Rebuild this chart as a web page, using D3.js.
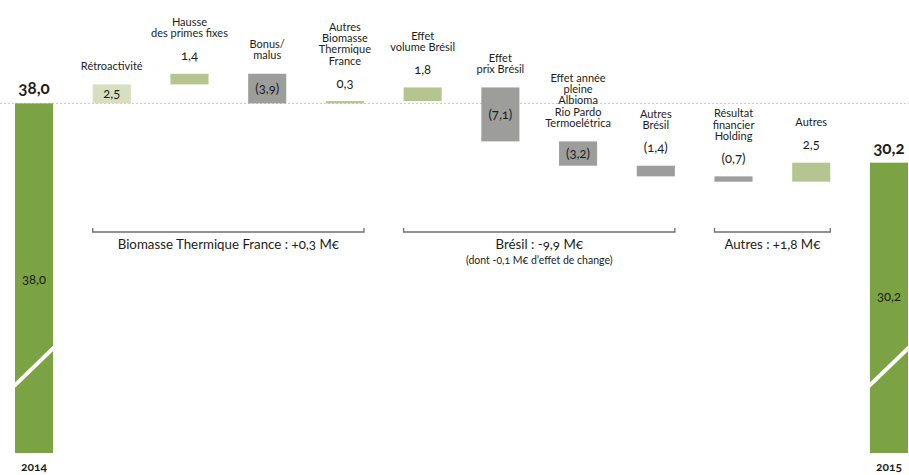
<!DOCTYPE html>
<html><head><meta charset="utf-8">
<script src="https://cdn.jsdelivr.net/npm/d3@7"></script>
<style>
body{margin:0;background:#fff;}
svg{font-family:Lato,"Open Sans",sans-serif;font-variant-numeric:oldstyle-nums;}
</style></head>
<body><svg id="c" width="909" height="475"></svg>
<script>
const categories = ["2014","Rétroactivité","Hausse des primes fixes","Bonus/malus","Autres Biomasse Thermique France","Effet volume Brésil","Effet prix Brésil","Effet année pleine Albioma Rio Pardo Termoelétrica","Autres Brésil","Résultat financier Holding","Autres","2015"];
const labelLines = [[],["Rétroactivité"],["Hausse","des primes fixes"],["Bonus/","malus"],["Autres","Biomasse","Thermique","France"],["Effet","volume Brésil"],["Effet","prix Brésil"],["Effet année","pleine","Albioma","Rio Pardo","Termoelétrica"],["Autres","Brésil"],["Résultat","financier","Holding"],["Autres"],[]];
const values = [38.0, 2.5, 1.4, -3.9, 0.3, 1.8, -7.1, -3.2, -1.4, -0.7, 2.5, 30.2];
const valueLabels = ["38,0","2,5","1,4","(3,9)","0,3","1,8","(7,1)","(3,2)","(1,4)","(0,7)","2,5","30,2"];
const kinds = ["total","light","mid","neg","mid","mid","neg","neg","neg","neg","mid","total"];
const labelInside = [false,true,false,true,false,false,true,true,false,false,false,false];
const groups = [
  {from:1,to:4,title:"Biomasse Thermique France : +0,3 M€",sub:null},
  {from:5,to:8,title:"Brésil : -9,9 M€",sub:"(dont -0,1 M€ d’effet de change)"},
  {from:9,to:10,title:"Autres : +1,8 M€",sub:null}
];
const colors = {total:"#7ba243",light:"#d6dfbf",mid:"#b6c58f",neg:"#9d9d9c"};

const svg = d3.select("#c");
const x = d3.scaleBand().domain(categories).range([15,908]).paddingInner(0.51).paddingOuter(0);
const y = d3.scaleLinear().domain([-8,42]).range([453,73]);
const bw = x.bandwidth();

let cum = 0;
const bars = categories.map((c,i)=>{
  let y0,y1;
  if(kinds[i]==="total"){ y0=-8; y1=values[i]; cum=values[i]; }
  else { y0=cum; y1=cum+values[i]; cum=y1; }
  return {c,i,lo:Math.min(y0,y1),hi:Math.max(y0,y1)};
});

svg.append("line").attr("x1",0).attr("x2",909).attr("y1",y(values[0])).attr("y2",y(values[0]))
  .attr("stroke","#c8c8c8").attr("stroke-width",1).attr("stroke-dasharray","2,2");

svg.selectAll("rect.bar").data(bars).join("rect").attr("class","bar")
  .attr("x",d=>x(d.c)).attr("width",bw)
  .attr("y",d=>y(d.hi)).attr("height",d=>Math.max(1,y(d.lo)-y(d.hi)))
  .attr("fill",d=>colors[kinds[d.i]]);

bars.filter(d=>kinds[d.i]==="total").forEach(d=>{
  svg.append("line").attr("x1",x(d.c)-1).attr("x2",x(d.c)+bw+1)
    .attr("y1",y(0.8)).attr("y2",y(5.9))
    .attr("stroke","#fff").attr("stroke-width",4);
});

const txt = "#1d1d1b";
bars.forEach(d=>{
  const cx = x(d.c)+bw/2;
  const top = y(d.hi);
  if(kinds[d.i]==="total"){
    svg.append("text").attr("x",cx).attr("y",top-9).attr("text-anchor","middle")
      .attr("font-size",17).attr("font-weight","bold").attr("fill",txt).text(valueLabels[d.i]);
    svg.append("text").attr("x",cx).attr("y",d.i===0?284:301).attr("text-anchor","middle")
      .attr("font-size",13).attr("fill",txt).text(valueLabels[d.i]);
    svg.append("text").attr("x",cx).attr("y",471).attr("text-anchor","middle")
      .attr("font-size",12).attr("font-weight","bold").attr("fill",txt).text(categories[d.i]);
    return;
  }
  let lastLineY;
  if(labelInside[d.i]){
    const mid = (y(d.hi)+y(d.lo))/2;
    svg.append("text").attr("x",cx).attr("y",mid+4.5).attr("text-anchor","middle")
      .attr("font-size",13).attr("fill",txt).text(valueLabels[d.i]);
    lastLineY = top-18;
  } else {
    const vy = top-18;
    svg.append("text").attr("x",cx).attr("y",vy+4.5).attr("text-anchor","middle")
      .attr("font-size",13).attr("fill",txt).text(valueLabels[d.i]);
    lastLineY = vy-22;
  }
  const lines = labelLines[d.i];
  lines.forEach((l,k)=>{
    svg.append("text").attr("x",cx).attr("y",lastLineY-(lines.length-1-k)*11.3+3.5)
      .attr("text-anchor","middle").attr("font-size",11).attr("fill",txt).text(l);
  });
});

groups.forEach(g=>{
  const x0 = x(categories[g.from]), x1 = x(categories[g.to])+bw;
  const by = 232;
  svg.append("path").attr("d",`M${x0},${by-4}V${by}H${x1}V${by-4}`)
    .attr("fill","none").attr("stroke","#6f6f6e").attr("stroke-width",1.3);
  const cx=(x0+x1)/2;
  svg.append("text").attr("x",cx).attr("y",249).attr("text-anchor","middle")
    .attr("font-size",13.3).attr("fill",txt).text(g.title);
  if(g.sub) svg.append("text").attr("x",cx).attr("y",263.5).attr("text-anchor","middle")
    .attr("font-size",10.5).attr("fill",txt).text(g.sub);
});
</script></body></html>
